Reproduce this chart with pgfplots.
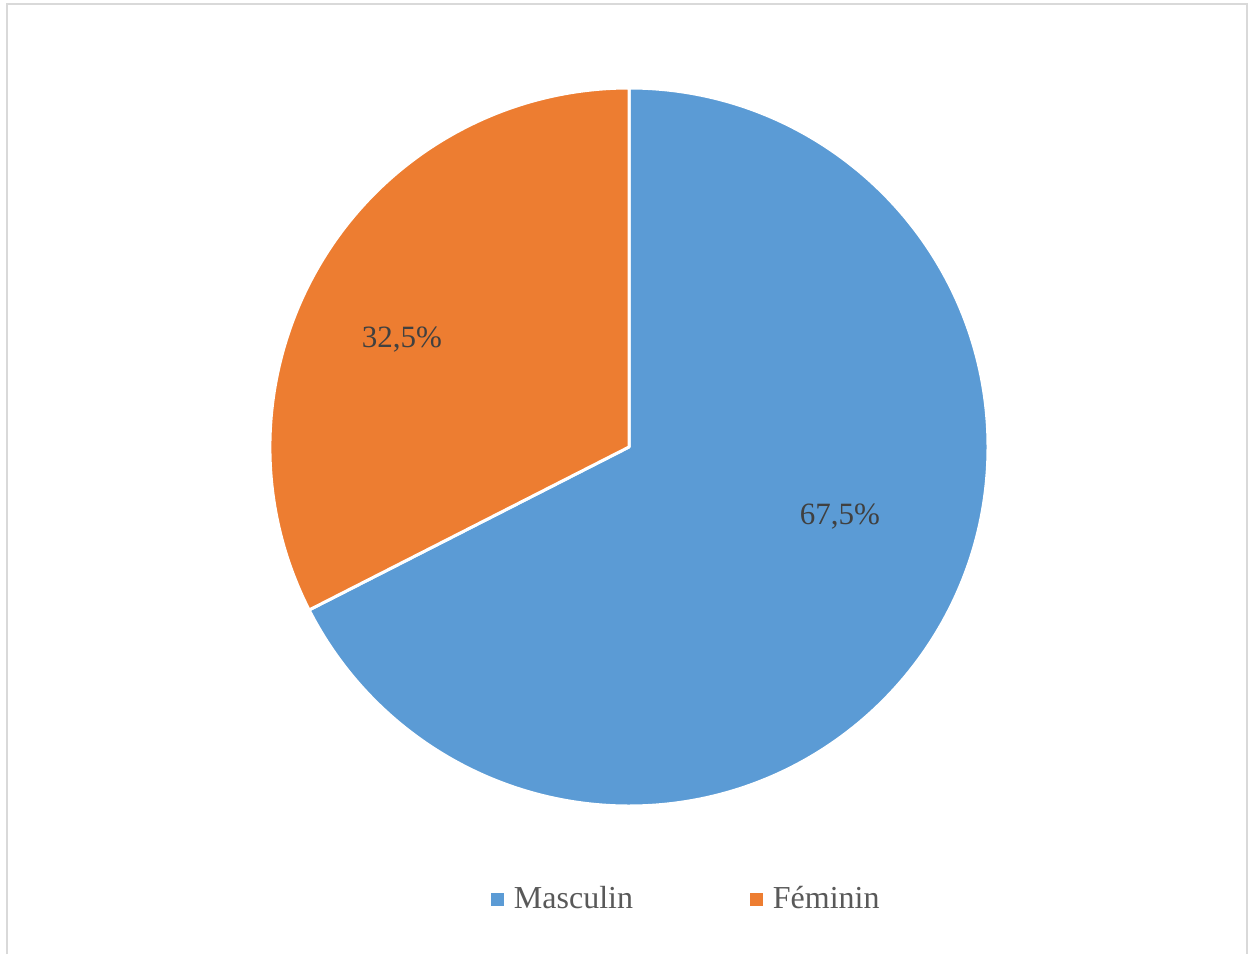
\documentclass[border=0pt]{standalone}
\usepackage{pgfplots}
\pgfplotsset{compat=1.18}
\usepackage{fontspec}
\setmainfont{Liberation Serif}
\definecolor{mblue}{HTML}{5B9BD5}
\definecolor{forange}{HTML}{ED7D31}
\definecolor{txt}{HTML}{404040}
\definecolor{legtxt}{HTML}{595959}
\definecolor{frame}{HTML}{D9D9D9}
\begin{document}
\begin{tikzpicture}
\def\valM{67.5}
\def\valF{32.5}
\pgfmathsetmacro{\angM}{90-3.6*\valM}
\begin{axis}[
  x=0.5pt, y=0.5pt,
  xmin=0, xmax=1252, ymin=0, ymax=954,
  scale only axis,
  hide axis,
  clip=false,
  legend columns=2,
  legend style={draw=none, fill=none, at={(0.549,0.0577)}, anchor=center,
    font=\fontsize{16}{18}\selectfont, text=legtxt,
    /tikz/every even column/.append style={column sep=56.5pt},
    inner sep=0pt},
  legend image code/.code={\fill[#1] (0pt,-3pt) rectangle (6pt,3pt); \path (9pt,0pt);},
]
\path[fill=white] (axis cs:0,0) rectangle (axis cs:1252,954);
\draw[frame, line width=1pt] (axis cs:7,0) -- (axis cs:7,950) -- (axis cs:1247,950) -- (axis cs:1247,0);
\addlegendimage{mblue}
\addlegendentry{Masculin}
\addlegendimage{forange}
\addlegendentry{Féminin}
\fill[mblue, draw=white, line width=1.5pt, line join=round] (axis cs:629,507) -- ++(90:179.5pt) arc[start angle=90, end angle=\angM, radius=179.5pt] -- cycle;
\fill[forange, draw=white, line width=1.5pt, line join=round] (axis cs:629,507) -- ++(\angM:179.5pt) arc[start angle=\angM, end angle=-270, radius=179.5pt] -- cycle;
\node[text=txt, font=\fontsize{15.5}{18}\selectfont] at (axis cs:840,437) {67,5\%};
\node[text=txt, font=\fontsize{15.5}{18}\selectfont] at (axis cs:402,614) {32,5\%};
\end{axis}
\end{tikzpicture}
\end{document}
